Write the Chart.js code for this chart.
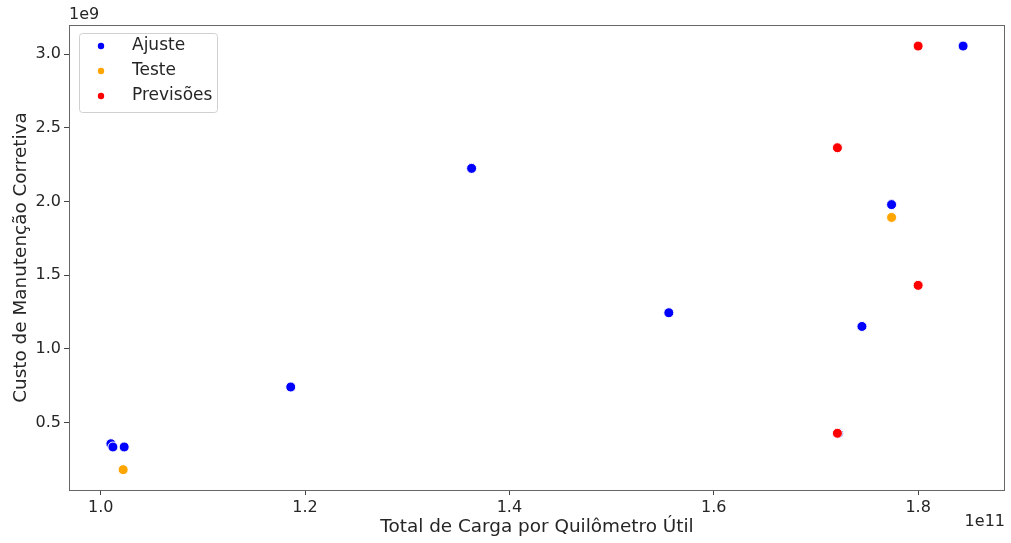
<!DOCTYPE html>
<html>
<head>
<meta charset="utf-8">
<script src="https://cdn.jsdelivr.net/npm/chart.js@4.4.0/dist/chart.umd.min.js"></script>
<style>
  html, body { margin: 0; padding: 0; background: #fff; }
</style>
</head>
<body>
<canvas id="chart" width="1011" height="543"></canvas>
<script>
// values (x in 1e11, y in 1e9)
const ajusteX = [1.010, 1.012, 1.023, 1.186, 1.363, 1.556, 1.722, 1.745, 1.774, 1.844];
const ajusteY = [0.357, 0.335, 0.335, 0.742, 2.226, 1.246, 0.428, 1.153, 1.980, 3.056];
const testeX = [1.022, 1.774];
const testeY = [0.181, 1.893];
const previsoesX = [1.721, 1.721, 1.800, 1.800];
const previsoesY = [2.366, 0.428, 1.432, 3.056];

const xTicks = [1.0, 1.2, 1.4, 1.6, 1.8];
const yTicks = [0.5, 1.0, 1.5, 2.0, 2.5, 3.0];
const X_SCALE = 1e11;
const Y_SCALE = 1e9;

const textColor = '#262626';
const font = 'DejaVu Sans';

function points(xs, ys) {
  return xs.map((x, i) => ({ x: x * X_SCALE, y: ys[i] * Y_SCALE }));
}

function series(label, xs, ys, color, order) {
  return {
    label: label,
    data: points(xs, ys),
    backgroundColor: color,
    borderColor: '#ffffff',
    borderWidth: 1,
    pointRadius: 5,
    pointHoverRadius: 5,
    order: order
  };
}

// frame, offset texts and the legend box
const extras = {
  id: 'extras',
  beforeDatasetsDraw(chart) {
    const { ctx, chartArea: a } = chart;
    ctx.save();
    ctx.strokeStyle = '#666';
    ctx.lineWidth = 1;
    ctx.strokeRect(a.left + 0.5, a.top + 0.5, a.right - a.left - 1, a.bottom - a.top);
    ctx.restore();
  },
  afterDatasetsDraw(chart) {
    const { ctx, chartArea: a } = chart;
    ctx.save();
    ctx.fillStyle = textColor;
    ctx.font = '16px "' + font + '"';
    ctx.textBaseline = 'bottom';
    ctx.textAlign = 'left';
    ctx.fillText('1e9', a.left, a.top - 2);
    ctx.textAlign = 'right';
    ctx.textBaseline = 'top';
    ctx.fillText('1e11', a.right, 514);

    // legend
    const entries = [
      { label: 'Ajuste', color: '#0000ff' },
      { label: 'Teste', color: '#ffa500' },
      { label: 'Previsões', color: '#ff0000' }
    ];
    const bx = 79, by = 33, bw = 138, bh = 79;
    ctx.beginPath();
    ctx.roundRect(bx + 0.5, by + 0.5, bw, bh, 3);
    ctx.fillStyle = 'rgba(255,255,255,0.8)';
    ctx.fill();
    ctx.strokeStyle = '#d0d0d0';
    ctx.lineWidth = 1;
    ctx.stroke();
    ctx.font = '17px "' + font + '"';
    ctx.textAlign = 'left';
    ctx.textBaseline = 'middle';
    entries.forEach((e, i) => {
      const cy = 46 + i * 25;
      ctx.beginPath();
      ctx.arc(101, cy, 3.2, 0, Math.PI * 2);
      ctx.fillStyle = e.color;
      ctx.fill();
      ctx.fillStyle = textColor;
      ctx.fillText(e.label, 132, cy);
    });
    ctx.restore();
  }
};

new Chart(document.getElementById('chart'), {
  type: 'scatter',
  data: {
    datasets: [
      series('Ajuste', ajusteX, ajusteY, '#0000ff', 2),
      series('Teste', testeX, testeY, '#ffa500', 1),
      series('Previsões', previsoesX, previsoesY, '#ff0000', 0)
    ]
  },
  options: {
    responsive: false,
    devicePixelRatio: 1,
    animation: false,
    layout: { padding: { top: 25, right: 5, left: 0, bottom: 0 } },
    plugins: {
      legend: { display: false },
      tooltip: { enabled: false }
    },
    scales: {
      x: {
        type: 'linear',
        min: 0.969 * X_SCALE,
        max: 1.885 * X_SCALE,
        afterBuildTicks: (scale) => { scale.ticks = xTicks.map(v => ({ value: v * X_SCALE })); },
        afterFit: (scale) => { scale.height = 53; },
        grid: { drawOnChartArea: false, color: '#444', tickLength: 5 },
        border: { display: false },
        ticks: {
          color: textColor,
          padding: 3,
          maxRotation: 0,
          font: { family: font, size: 16 },
          callback: (v) => (v / X_SCALE).toFixed(1)
        },
        title: {
          display: true,
          text: 'Total de Carga por Quilômetro Útil',
          color: textColor,
          font: { family: font, size: 18.4 },
          padding: { top: 0, bottom: 5 }
        }
      },
      y: {
        type: 'linear',
        min: 0.043 * Y_SCALE,
        max: 3.199 * Y_SCALE,
        afterBuildTicks: (scale) => { scale.ticks = yTicks.map(v => ({ value: v * Y_SCALE })); },
        afterFit: (scale) => { scale.width = 69; },
        grid: { drawOnChartArea: false, color: '#444', tickLength: 5 },
        border: { display: false },
        ticks: {
          color: textColor,
          padding: 3,
          font: { family: font, size: 16 },
          callback: (v) => (v / Y_SCALE).toFixed(1)
        },
        title: {
          display: true,
          text: 'Custo de Manutenção Corretiva',
          color: textColor,
          font: { family: font, size: 18.4 },
          padding: { top: 10, bottom: 0 }
        }
      }
    }
  },
  plugins: [extras]
});
</script>
</body>
</html>
